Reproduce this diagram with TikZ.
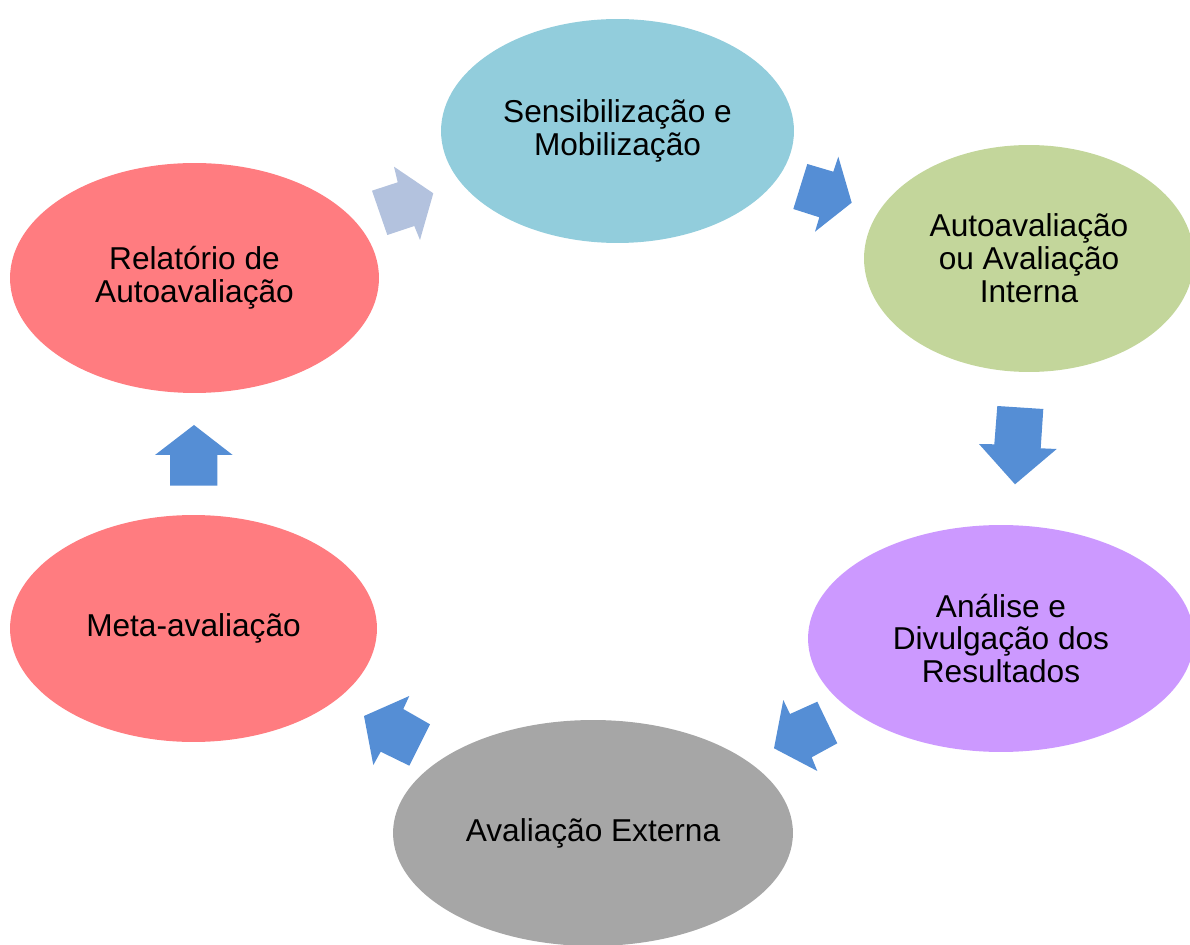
\documentclass[tikz,border=0pt]{standalone}
\usepackage{fontspec}
\setmainfont{Liberation Sans}
\usetikzlibrary{shapes.geometric}
\definecolor{cblue}{HTML}{92CDDC}
\definecolor{cgreen}{HTML}{C3D69B}
\definecolor{cpurple}{HTML}{CC99FF}
\definecolor{cgray}{HTML}{A6A6A6}
\definecolor{cred}{HTML}{FF7C80}
\definecolor{carrow}{HTML}{558ED5}
\definecolor{carrowlight}{HTML}{B3C2DE}
\begin{document}
\begin{tikzpicture}[x=0.02cm,y=-0.02cm,
  stage/.style={ellipse, inner sep=0pt, align=center, text=black,
    font=\fontsize{18}{18.7}\selectfont},
  blockarrow/.style={fill=carrow}]
\useasboundingbox (0,0) rectangle (1190,945);
\clip (0,0) rectangle (1190,945);
% stages
\node[stage, fill=cblue, minimum width=7.06cm, minimum height=4.48cm] (sens) at (617.5,131) {Sensibilização e\\Mobilização};
\node[stage, fill=cgreen, minimum width=6.6cm, minimum height=4.54cm] (auto) at (1029,258.5) {Autoavaliação\\ou Avaliação\\Interna};
\node[stage, fill=cpurple, minimum width=7.72cm, minimum height=4.54cm] (anal) at (1001,638.5) {Análise e\\Divulgação dos\\Resultados};
\node[stage, fill=cgray, minimum width=8.0cm, minimum height=4.52cm] (ext) at (593,833) {Avaliação Externa};
\node[stage, fill=cred, minimum width=7.34cm, minimum height=4.54cm] (meta) at (193.5,628.5) {Meta-avaliação};
\node[stage, fill=cred, minimum width=7.38cm, minimum height=4.6cm] (rel) at (194.5,278) {Relatório de\\Autoavaliação};
% block arrows
\fill[carrowlight] (372,190.7) -- (397.7,182.3) -- (394,166.7) -- (433.3,193.3) -- (420,240) -- (414.3,226) -- (387.3,235) -- cycle;
\fill[blockarrow] (807.3,164) -- (833.3,171.7) -- (838.3,156.7) -- (851.7,202.7) -- (815,231.7) -- (819.3,217.3) -- (793.3,209) -- cycle;
\fill[blockarrow] (997.3,406) -- (1043.3,409) -- (1040.7,448.3) -- (1056.7,449) -- (1015,484.3) -- (979,444) -- (994.3,444.3) -- cycle;
\fill[blockarrow] (783.3,700) -- (790,714) -- (817.3,701.7) -- (837.3,743.3) -- (811.7,757.3) -- (817.3,771) -- (774,748.3) -- cycle;
\fill[blockarrow] (364,716) -- (409.3,696) -- (403.3,709) -- (430,724.3) -- (409.3,765.7) -- (380.7,751.7) -- (373.3,765) -- cycle;
\fill[blockarrow] (194,425) -- (232.7,455) -- (217.3,455) -- (217.3,485.7) -- (170,485.7) -- (170,455) -- (155,455) -- cycle;
\end{tikzpicture}
\end{document}
